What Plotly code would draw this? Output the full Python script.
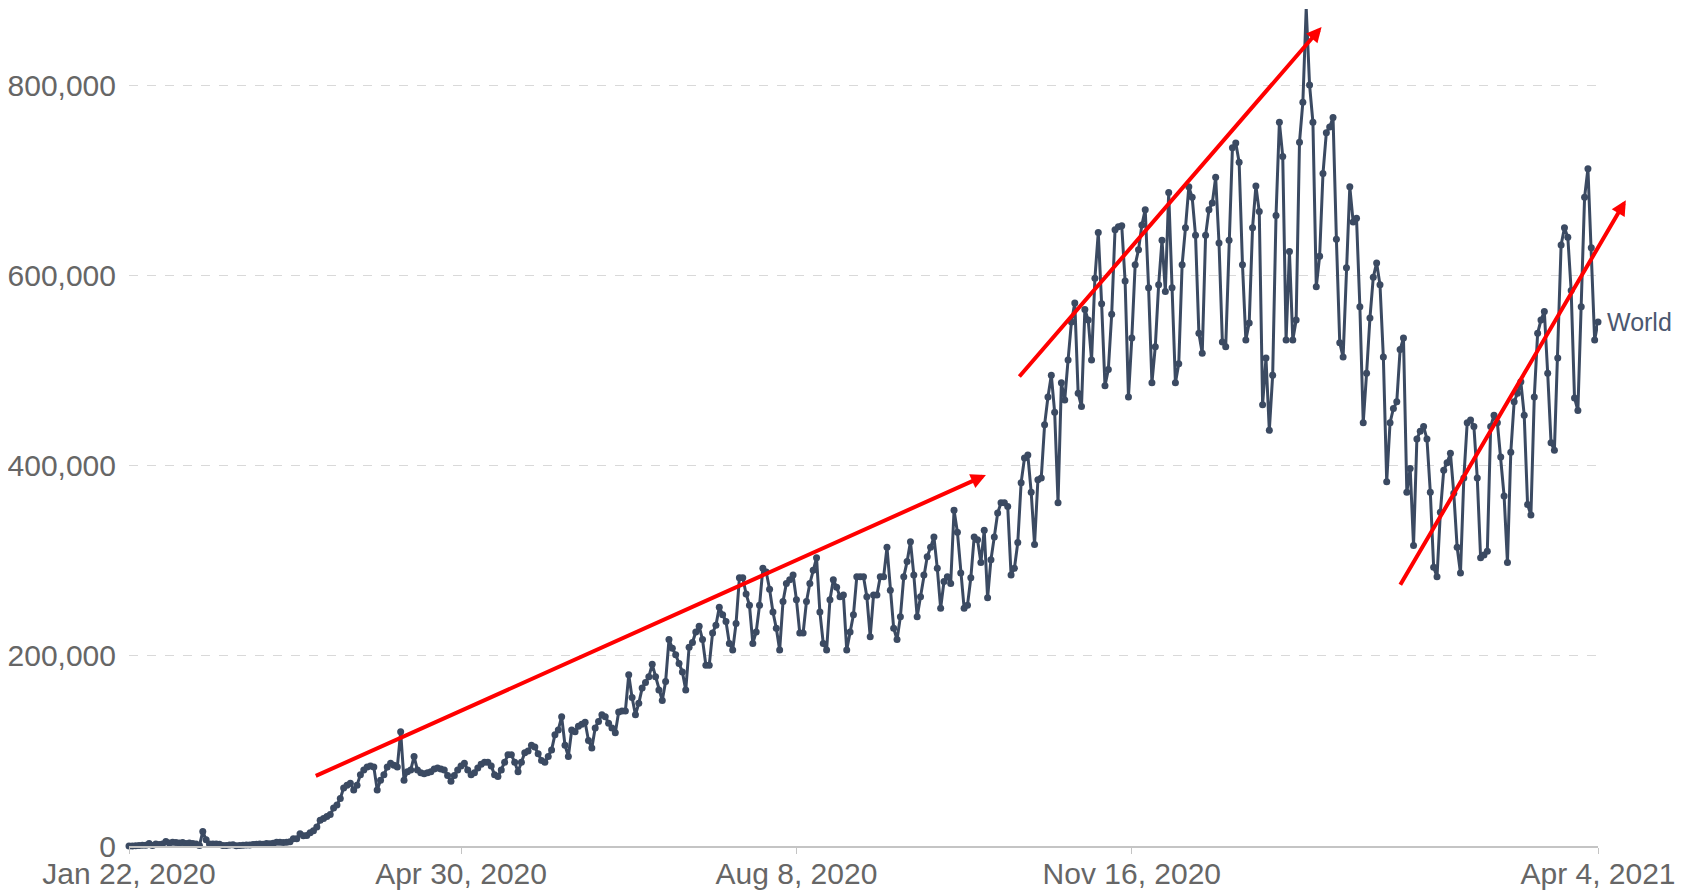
import pandas as pd
import plotly.graph_objects as go

# daily new confirmed cases, World (one value per day)
cases_2020_01 = [0, 100, 290, 490, 680, 810, 2650, 590, 2070, 1690]
cases_2020_02 = [2110, 4750, 3090, 4010, 3740, 3160, 3600, 2730, 3030, 2580,
                 2050, 420, 15140, 6520, 2140, 2190, 2040, 1890, 410, 560,
                 1100, 1370, 260, 550, 840, 930, 1130, 1480, 1820]
cases_2020_03 = [1990, 1920, 2520, 2250, 2800, 3900, 4000, 3770, 4060, 4480,
                 7500, 7500, 13000, 10900, 11000, 14000, 16000, 20000, 27000, 29000,
                 31000, 33000, 40000, 43000, 50000, 61000, 64000, 66000, 59000, 64000,
                 75000]
cases_2020_04 = [80000, 83000, 84000, 83000, 59000, 69000, 75000, 83000, 87000, 85000,
                 83000, 120000, 69000, 78000, 80000, 94000, 80000, 77000, 76000, 77000,
                 78000, 81000, 82000, 81000, 80000, 74000, 68000, 74000, 80000, 84000]
cases_2020_05 = [87000, 80000, 75000, 77000, 82000, 86000, 88000, 88000, 84000, 75000,
                 73000, 80000, 88000, 96000, 96000, 88000, 78000, 88000, 98000, 100000,
                 106000, 104000, 97000, 90000, 88000, 94000, 101000, 117000, 122000, 136000,
                 106000]
cases_2020_06 = [94000, 122000, 120000, 126000, 128000, 130000, 111000, 103000, 124000, 131000,
                 138000, 136000, 129000, 124000, 119000, 141000, 142000, 142000, 180000, 156000,
                 138000, 150000, 166000, 172000, 178000, 191000, 178000, 164000, 153000, 173000]
cases_2020_07 = [217000, 208000, 201000, 192000, 183000, 164000, 209000, 214000, 225000, 231000,
                 217000, 190000, 190000, 224000, 232000, 251000, 243000, 236000, 213000, 206000,
                 234000, 282000, 282000, 265000, 253000, 213000, 225000, 253000, 292000, 288000,
                 270000]
cases_2020_08 = [246000, 229000, 206000, 257000, 276000, 280000, 285000, 259000, 224000, 224000,
                 257000, 276000, 290000, 303000, 246000, 213000, 206000, 259000, 280000, 272000,
                 262000, 264000, 206000, 225000, 243000, 283000, 283000, 283000, 262000, 220000,
                 264000]
cases_2020_09 = [264000, 283000, 283000, 314000, 269000, 229000, 217000, 241000, 283000, 299000,
                 320000, 285000, 241000, 262000, 285000, 304000, 314000, 325000, 292000, 250000,
                 278000, 283000, 276000, 353000, 330000, 287000, 250000, 253000, 282000, 325000]
cases_2020_10 = [322000, 298000, 332000, 261000, 301000, 325000, 350000, 361000, 361000, 357000,
                 285000, 292000, 319000, 382000, 408000, 411000, 372000, 317000, 385000, 387000,
                 443000, 472000, 495000, 456000, 361000, 487000, 469000, 511000, 551000, 571000,
                 476000]
cases_2020_11 = [462000, 564000, 553000, 511000, 597000, 645000, 570000, 484000, 501000, 559000,
                 648000, 651000, 652000, 594000, 472000, 534000, 611000, 627000, 653000, 669000,
                 587000, 487000, 525000, 590000, 637000, 583000, 687000, 587000, 487000, 507000]
cases_2020_12 = [611000, 650000, 693000, 682000, 642000, 539000, 518000, 642000, 669000, 676000,
                 703000, 634000, 530000, 525000, 637000, 734000, 739000, 719000, 611000, 532000,
                 550000, 650000, 694000, 667000, 464000, 513000, 437000, 495000, 663000, 761000,
                 725000]
cases_2021_01 = [532000, 625000, 532000, 553000, 740000, 782000, 881000, 800000, 761000, 588000,
                 620000, 707000, 750000, 756000, 766000, 638000, 529000, 514000, 608000, 693000,
                 656000, 660000, 567000, 445000, 497000, 555000, 598000, 613000, 590000, 514000,
                 383000]
cases_2021_02 = [445000, 460000, 467000, 522000, 534000, 372000, 397000, 316000, 428000, 436000,
                 441000, 428000, 372000, 293000, 283000, 351000, 395000, 403000, 413000, 371000,
                 314000, 287000, 387000, 445000, 448000, 441000, 387000, 303000]
cases_2021_03 = [306000, 310000, 441000, 453000, 445000, 409000, 368000, 298000, 414000, 467000,
                 476000, 488000, 453000, 359000, 348000, 472000, 539000, 553000, 562000, 497000,
                 424000, 416000, 513000, 632000, 650000, 640000, 584000, 471000, 458000, 567000,
                 682000]
cases_2021_04 = [712000, 629000, 532000, 551000]

daily_cases = (cases_2020_01 + cases_2020_02 + cases_2020_03 + cases_2020_04
               + cases_2020_05 + cases_2020_06 + cases_2020_07 + cases_2020_08
               + cases_2020_09 + cases_2020_10 + cases_2020_11 + cases_2020_12
               + cases_2021_01 + cases_2021_02 + cases_2021_03 + cases_2021_04)
dates = pd.date_range("2020-01-22", "2021-04-04", freq="D")
assert len(dates) == len(daily_cases)

tick_dates = ["2020-01-22", "2020-04-30", "2020-08-08", "2020-11-16", "2021-04-04"]
tick_labels = ["Jan 22, 2020", "Apr 30, 2020", "Aug 8, 2020", "Nov 16, 2020", "Apr 4, 2021"]
y_ticks = [0, 200000, 400000, 600000, 800000]

# red trend arrows drawn over the chart: tail (date, value) -> head (date, value)
trend_arrows = [
    ("2020-03-17 06:00", 73000, "2020-10-03 12:00", 390000),
    ("2020-10-13 02:00", 492000, "2021-01-11 14:00", 861000),
    ("2021-02-03 19:00", 273000, "2021-04-12 07:00", 679000),
]

line_color = "#3b4a62"

fig = go.Figure()
fig.add_trace(go.Scatter(
    x=dates, y=daily_cases,
    mode="lines+markers",
    name="World",
    line=dict(color=line_color, width=3),
    marker=dict(size=7, color=line_color),
    cliponaxis=False,
))

fig.add_annotation(
    x=dates[-1], y=daily_cases[-1], text="World",
    showarrow=False, xanchor="left", xshift=7,
    font=dict(size=25, color="#4b5870"),
)

for tail_x, tail_y, head_x, head_y in trend_arrows:
    fig.add_annotation(
        x=head_x, y=head_y, ax=tail_x, ay=tail_y,
        xref="x", yref="y", axref="x", ayref="y",
        text="", showarrow=True,
        arrowhead=2, arrowsize=0.75, arrowwidth=4, arrowcolor="#ff0000",
        standoff=0, startstandoff=0,
    )

# the page body adds an 8px margin, so the figure is sized to fit inside the window
fig.update_layout(
    width=1677, height=883,
    margin=dict(l=121, r=87, t=1, b=45),
    plot_bgcolor="white", paper_bgcolor="white",
    showlegend=False,
    font=dict(family="Liberation Sans, Arial, sans-serif", size=30, color="#666666"),
    xaxis=dict(
        type="date",
        range=[dates[0], dates[-1]],
        tickvals=tick_dates, ticktext=tick_labels,
        showgrid=False, zeroline=False, automargin=False,
        showline=True, linecolor="#c4c4c4", linewidth=1.5,
        ticks="outside", ticklen=6, tickcolor="#c4c4c4",
        ticklabelstandoff=-6,
    ),
    yaxis=dict(
        range=[0, 880000],
        tickvals=y_ticks, tickformat=",",
        showgrid=True, gridcolor="#d9d9d9", griddash="dash", gridwidth=1,
        zeroline=False, showline=False, ticks="", automargin=False,
        ticklabelstandoff=12,
    ),
)

fig.write_html("out.html")
